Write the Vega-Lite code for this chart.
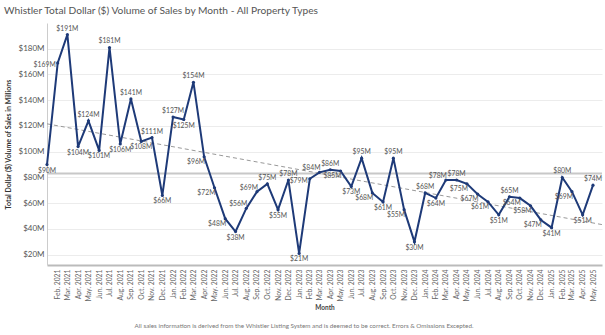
{
  "$schema": "https://vega.github.io/schema/vega-lite/v6.json",
  "padding": {"left": 4, "top": 5, "right": 5, "bottom": 4},
  "config": {
    "view": {"stroke": null},
    "font": "Lato",
    "concat": {"spacing": 0}
  },
  "title": {
    "text": "All sales information is derived from the Whistler Listing System and is deemed to be correct. Errors & Omissions Excepted.",
    "orient": "bottom", "anchor": "middle", "fontSize": 6.3, "fontWeight": "normal", "color": "#777", "offset": 12
  },
  "vconcat": [
    {
      "title": {
        "text": "Whistler Total Dollar ($) Volume of Sales by Month - All Property Types",
        "anchor": "start", "frame": "bounds", "fontSize": 10.2, "fontWeight": "normal", "color": "#555", "offset": 7
      },
      "width": 555,
      "height": 242,
      "data": {
        "values": [
          {"date": "2021-01-01", "value": 90}, {"date": "2021-02-01", "value": 169}, {"date": "2021-03-01", "value": 191},
          {"date": "2021-04-01", "value": 104}, {"date": "2021-05-01", "value": 124}, {"date": "2021-06-01", "value": 101},
          {"date": "2021-07-01", "value": 181}, {"date": "2021-08-01", "value": 106}, {"date": "2021-09-01", "value": 141},
          {"date": "2021-10-01", "value": 108}, {"date": "2021-11-01", "value": 111}, {"date": "2021-12-01", "value": 66},
          {"date": "2022-01-01", "value": 127}, {"date": "2022-02-01", "value": 125}, {"date": "2022-03-01", "value": 154},
          {"date": "2022-04-01", "value": 96}, {"date": "2022-05-01", "value": 72}, {"date": "2022-06-01", "value": 48},
          {"date": "2022-07-01", "value": 38}, {"date": "2022-08-01", "value": 56}, {"date": "2022-09-01", "value": 69},
          {"date": "2022-10-01", "value": 75}, {"date": "2022-11-01", "value": 55}, {"date": "2022-12-01", "value": 78},
          {"date": "2023-01-01", "value": 21}, {"date": "2023-02-01", "value": 79}, {"date": "2023-03-01", "value": 84},
          {"date": "2023-04-01", "value": 86}, {"date": "2023-05-01", "value": 85}, {"date": "2023-06-01", "value": 73},
          {"date": "2023-07-01", "value": 95}, {"date": "2023-08-01", "value": 68}, {"date": "2023-09-01", "value": 61},
          {"date": "2023-10-01", "value": 95}, {"date": "2023-11-01", "value": 55}, {"date": "2023-12-01", "value": 30},
          {"date": "2024-01-01", "value": 68}, {"date": "2024-02-01", "value": 64}, {"date": "2024-03-01", "value": 78},
          {"date": "2024-04-01", "value": 78}, {"date": "2024-05-01", "value": 75}, {"date": "2024-06-01", "value": 67},
          {"date": "2024-07-01", "value": 61}, {"date": "2024-08-01", "value": 51}, {"date": "2024-09-01", "value": 65},
          {"date": "2024-10-01", "value": 64}, {"date": "2024-11-01", "value": 58}, {"date": "2024-12-01", "value": 47},
          {"date": "2025-01-01", "value": 41}, {"date": "2025-02-01", "value": 80}, {"date": "2025-03-01", "value": 69},
          {"date": "2025-04-01", "value": 51}, {"date": "2025-05-01", "value": 74}
        ]
      },
      "encoding": {
        "x": {
          "field": "date", "type": "temporal",
          "scale": {"type": "utc", "domain": [{"year": 2021, "month": 1, "date": 1, "utc": true}, {"year": 2025, "month": 5, "date": 27, "utc": true}]},
          "axis": {
            "title": "Month", "titleFontSize": 6.5, "titleFontWeight": "bold", "titleColor": "#444", "titlePadding": 4,
            "tickCount": {"interval": "month", "step": 1},
            "labelExpr": "time(datum.value) < 1609545600000 ? '' : utcFormat(datum.value, '%b. %Y')",
            "labelAngle": -90, "labelFontSize": 6.8, "labelColor": "#666", "labelOverlap": false, "labelPadding": 4,
            "labelFlush": false, "labelBound": false,
            "grid": false, "ticks": false, "domainColor": "#bbb", "domainWidth": 2
          }
        },
        "y": {
          "field": "value", "type": "quantitative",
          "scale": {"domain": [12, 200], "nice": false, "zero": false},
          "axis": {
            "title": "Total Dollar ($) Volume of Sales in Millions", "titleFontSize": 7, "titleFontWeight": "bold", "titleColor": "#333", "titlePadding": 7,
            "values": [20, 40, 60, 80, 100, 120, 140, 160, 180],
            "labelExpr": "'$' + datum.value + 'M'", "labelFontSize": 8, "labelColor": "#555", "labelPadding": 3,
            "ticks": false, "gridColor": "#ececec", "domainColor": "#ccc"
          }
        }
      },
      "layer": [
        {
          "transform": [{"aggregate": [{"op": "mean", "field": "value", "as": "avg"}]}],
          "mark": {"type": "rule", "color": "#c8c8c8", "strokeWidth": 2},
          "encoding": {"x": null, "y": {"field": "avg", "type": "quantitative"}}
        },
        {
          "transform": [{"aggregate": [{"op": "mean", "field": "value", "as": "avg"}]}],
          "mark": {"type": "text", "align": "left", "baseline": "bottom", "dx": 2, "dy": -2, "fontSize": 7, "color": "#888"},
          "encoding": {
            "x": {"datum": {"year": 2021, "month": 1, "date": 1, "utc": true}, "type": "temporal"},
            "y": {"field": "avg", "type": "quantitative"},
            "text": {"value": "Monthly Average (over selected years)"}
          }
        },
        {
          "transform": [{"regression": "value", "on": "date", "extent": [1609459200000, 1748304000000]}],
          "mark": {"type": "line", "color": "#999", "strokeWidth": 1, "strokeDash": [4, 3]},
          "encoding": {}
        },
        {
          "mark": {"type": "line", "color": "#1e3a78", "strokeWidth": 2},
          "encoding": {}
        },
        {
          "mark": {"type": "point", "filled": true, "color": "#1e3a78", "size": 10, "opacity": 1},
          "encoding": {}
        },
        {
          "transform": [
            {"window": [{"op": "lag", "field": "value", "as": "prev"}, {"op": "lead", "field": "value", "as": "next"}], "sort": [{"field": "date"}]},
            {"calculate": "'$' + datum.value + 'M'", "as": "lbl"},
            {"calculate": "datum.prev == null ? datum.value : datum.prev", "as": "p"},
            {"calculate": "datum.next == null ? datum.value : datum.next", "as": "n"},
            {"calculate": "(datum.prev != null && datum.next != null && datum.p < datum.value && datum.value <= datum.n) ? 'rise' : ((datum.prev != null && datum.next != null && datum.p > datum.value && datum.value >= datum.n) ? 'fall' : 'ext')", "as": "dir"},
            {"calculate": "datum.dir == 'rise' ? true : (datum.dir == 'fall' ? false : datum.value >= (datum.p + datum.n) / 2)", "as": "up"}
          ],
          "mark": {
            "type": "text", "fontSize": 6.8, "color": "#555",
            "baseline": {"expr": "datum.dir == 'ext' ? (datum.up ? 'bottom' : 'top') : 'middle'"},
            "dy": {"expr": "datum.dir == 'ext' ? (datum.up ? -3 : 3) : (datum.dir == 'rise' ? (datum.value - datum.p > 30 ? 2 : -4) : 5)"},
            "align": {"expr": "datum.dir == 'ext' ? 'center' : 'right'"},
            "dx": {"expr": "datum.dir == 'ext' ? 0 : (datum.dir == 'rise' && datum.value - datum.p > 30 ? -2 : 1)"}
          },
          "encoding": {"text": {"field": "lbl"}}
        }
      ]
    }
  ]
}
